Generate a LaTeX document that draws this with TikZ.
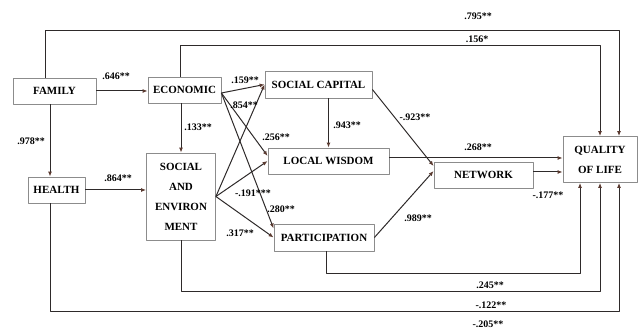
\documentclass[tikz,border=0pt]{standalone}
\usepackage{fontspec}
\setmainfont{Liberation Serif}
\usepackage{xcolor}
\usepackage{tikz}
\usetikzlibrary{%
arrows.meta,
positioning,
backgrounds}

\definecolor{linecol}{HTML}{2E2A2A}
\definecolor{tipcol}{HTML}{5A3A30}
\definecolor{boxcol}{HTML}{8C8C8C}

\begin{document}
\begin{tikzpicture}[>={Latex[length=5bp,width=4bp,color=tipcol]},line join=bevel,
  varbox/.style={draw=boxcol,line width=0.8bp,fill=white,inner sep=0pt,align=center,
    font=\fontsize{11bp}{20bp}\selectfont\bfseries},
  lbl/.style={inner sep=0pt,font=\fontsize{10bp}{12bp}\selectfont\bfseries},
  every path/.style={line width=1bp}]
  \useasboundingbox (0,0) rectangle (642bp,329bp);
  \pgfsetstrokecolor{linecol}
%%
  % Node: family
  \node[varbox,minimum width=83bp,minimum height=26bp] (family) at (54.5bp,238bp) {FAMILY};
  % Node: economic
  \node[varbox,minimum width=73bp,minimum height=26bp] (economic) at (184.5bp,239bp) {ECONOMIC};
  % Node: health
  \node[varbox,minimum width=57bp,minimum height=26bp] (health) at (56.5bp,139bp) {HEALTH};
  % Node: socenv
  \node[varbox,minimum width=69bp,minimum height=87bp] (socenv) at (181bp,132.5bp) {SOCIAL\\AND\\ENVIRON\\MENT};
  % Node: soccap
  \node[varbox,minimum width=107bp,minimum height=27bp] (soccap) at (318.5bp,244.5bp) {SOCIAL CAPITAL};
  % Node: wisdom
  \node[varbox,minimum width=121bp,minimum height=26bp] (wisdom) at (328.5bp,168bp) {LOCAL WISDOM};
  % Node: particip
  \node[varbox,minimum width=100bp,minimum height=27bp] (particip) at (324bp,91.5bp) {PARTICIPATION};
  % Node: network
  \node[varbox,minimum width=99bp,minimum height=26bp] (network) at (483.5bp,154bp) {NETWORK};
  % Node: quality
  \node[varbox,minimum width=74bp,minimum height=46bp] (quality) at (600bp,169.5bp) {QUALITY\\OF LIFE};
%%
  \coordinate (topA) at (0,298bp);
  \coordinate (topB) at (0,283bp);
  \coordinate (botA) at (0,55bp);
  \coordinate (botB) at (0,37bp);
  \coordinate (botC) at (0,17bp);
  % Edge: family -> economic
  \draw [->] (family.east) -- (family.east -| economic.west);
  % Edge: family -> health
  \draw [->] ([xshift=-4.5bp]family.south) -- ([xshift=-4.5bp]family.south |- health.north);
  % Edge: health -> socenv
  \draw [->] (health.east) -- (health.east -| socenv.west);
  % Edge: economic -> socenv
  \draw [->] (economic.south -| socenv.north) -- (socenv.north);
  % Edge: family -> quality
  \draw [->] ([xshift=-9.5bp]family.north) |- ([xshift=19bp]quality.north |- topA) -- ([xshift=19bp]quality.north);
  % Edge: economic -> quality
  \draw [->] ([xshift=-4.5bp]economic.north) |- (quality.north |- topB) -- (quality.north);
  % Edge: economic -> soccap, wisdom, particip
  \draw [->] ([yshift=-3bp]economic.east) -- (soccap.west);
  \draw [->] ([yshift=-3bp]economic.east) -- ([yshift=5bp]wisdom.west);
  \draw [->] ([yshift=-3bp]economic.east) -- ([yshift=9bp]particip.west);
  % Edge: socenv -> soccap, wisdom, particip
  \draw [->] (socenv.east) -- (soccap.west);
  \draw [->] (socenv.east) -- (wisdom.west);
  \draw [->] (socenv.east) -- (particip.west);
  % Edge: soccap -> wisdom
  \draw [->] (wisdom.north |- soccap.south) -- (wisdom.north);
  % Edge: soccap -> network
  \draw [->] ([yshift=-5bp]soccap.east) -- ([yshift=9bp]network.west);
  % Edge: particip -> network
  \draw [->] (particip.east) -- ([yshift=4bp]network.west);
  % Edge: wisdom -> quality
  \draw [->] ([yshift=3bp]wisdom.east) -- ([yshift=3bp]wisdom.east -| quality.west);
  % Edge: network -> quality
  \draw [->] ([yshift=3bp]network.east) -- ([yshift=3bp]network.east -| quality.west);
  % Edge: particip -> quality
  \draw [->] ([xshift=2bp]particip.south) |- ([xshift=-20bp]quality.south |- botA) -- ([xshift=-20bp]quality.south);
  % Edge: socenv -> quality
  \draw [->] (socenv.south) |- (quality.south |- botB) -- (quality.south);
  % Edge: health -> quality
  \draw [->] ([xshift=-6.5bp]health.south) |- ([xshift=19bp]quality.south |- botC) -- ([xshift=19bp]quality.south);
%%
  % Labels
  \node[lbl] (w646) at (116bp,253bp) {.646**};
  \node[lbl] (w978) at (31bp,188bp) {.978**};
  \node[lbl] (w864) at (118bp,151bp) {.864**};
  \node[lbl] (w133) at (198bp,202bp) {.133**};
  \node[lbl] (w159) at (245bp,249bp) {.159**};
  \node[lbl] (w854) at (244bp,224bp) {.854**};
  \node[lbl] (w256) at (276bp,192bp) {.256**};
  \node[lbl] (w191) at (253bp,136bp) {-.191***};
  \node[lbl] (w280) at (281bp,120bp) {.280**};
  \node[lbl] (w317) at (240bp,96bp) {.317**};
  \node[lbl] (w943) at (347bp,204bp) {.943**};
  \node[lbl] (w923) at (415bp,212bp) {-.923**};
  \node[lbl] (w268) at (478bp,182bp) {.268**};
  \node[lbl] (w795) at (478bp,313bp) {.795**};
  \node[lbl] (w156) at (477bp,290bp) {.156*};
  \node[lbl] (w177) at (548bp,134bp) {-.177**};
  \node[lbl] (w989) at (418bp,111bp) {.989**};
  \node[lbl] (w245) at (490bp,44bp) {.245**};
  \node[lbl] (w122) at (491bp,24bp) {-.122**};
  \node[lbl] (w205) at (488bp,4.5bp) {-.205**};
%
\end{tikzpicture}
\end{document}
